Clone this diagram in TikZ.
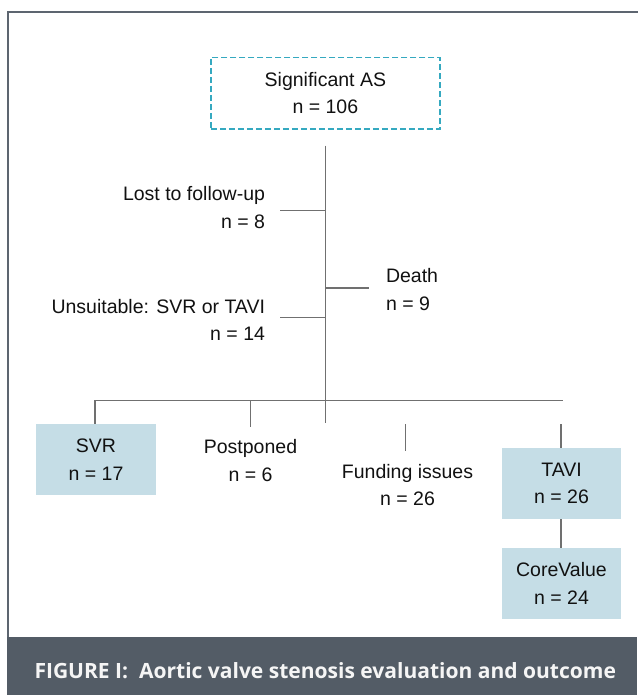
\documentclass[tikz,border=0pt]{standalone}
\usepackage{fontspec}
\setmainfont{Liberation Sans}
\newfontfamily\capfont[Ligatures=NoCommon]{Open Sans}
\definecolor{framegray}{HTML}{5D6570}
\definecolor{bargray}{HTML}{535C66}
\definecolor{linegray}{HTML}{707070}
\definecolor{boxblue}{HTML}{C5DDE6}
\definecolor{dashcyan}{HTML}{35A9C0}
\definecolor{txt}{HTML}{111111}
\begin{document}
\begin{tikzpicture}[x=1pt,y=-1pt,
  every node/.style={inner sep=0pt, outer sep=0pt, text=txt,
    font=\fontsize{19.5}{27.5}\selectfont},
  lbl/.style={align=center},
  lblr/.style={align=right, anchor=east},
  lbll/.style={align=left, anchor=west},
  bluebox/.style={fill=boxblue, minimum width=119pt, minimum height=71pt, align=center},
  dashbox/.style={draw=dashcyan, line width=1.4pt, dash pattern=on 6pt off 3pt,
    minimum width=229pt, minimum height=71.5pt, align=center},
  conn/.style={draw=linegray, line width=1.5pt}
]
\useasboundingbox (0,0) rectangle (637,695);
% frame
\draw[framegray, line width=2.2pt] (8,637) -- (8,12) -- (640,12);
% caption bar
\fill[bargray] (7,636.7) rectangle (637,695);
\node[font=\capfont\bfseries\fontsize{21}{24}\selectfont, text=white!96!black, anchor=west] (cap) at (34.5,671)
  {\resizebox{581.5pt}{!}{FIGURE I:\ \ Aortic valve stenosis evaluation and outcome}};

% nodes
\node[dashbox] (top) at (325.4,93.2) {Significant AS\\n = 106};
\node[lblr] (lost) at (265,207.5) {Lost to follow-up\\n = 8};
\node[lblr] (uns) at (265,320) {Unsuitable: SVR or TAVI\\n = 14};
\node[lbll] (death) at (386,289.5) {Death\\n = 9};
\node[bluebox, minimum width=120pt] (svr) at (96,459.5) {SVR\\n = 17};
\node[lbl] (post) at (250.5,460.5) {Postponed\\n = 6};
\node[lbl] (fund) at (407.5,485) {Funding issues\\n = 26};
\node[bluebox] (tavi) at (561.5,483.5) {TAVI\\n = 26};
\node[bluebox] (core) at (561.5,583.5) {CoreValue\\n = 24};

% coordinates
\coordinate (vtop) at (325.5,145.7);
\coordinate (vbot) at (325.5,423);
\coordinate (t1) at (325.5,210.7);
\coordinate (t1e) at (280,210.7);
\coordinate (t2) at (325.5,317.3);
\coordinate (t2e) at (280,317.3);
\coordinate (td) at (325.5,288);
\coordinate (tde) at (369,288);
\coordinate (bl) at (95,400.5);
\coordinate (br) at (562.7,400.5);
\coordinate (pt) at (250.7,400.5);
\coordinate (pb) at (250.7,427);
\coordinate (ft) at (405.7,424);
\coordinate (fb) at (405.7,451);
\coordinate (tt) at (561,424);

% connectors
\draw[conn] (vtop) -- (vbot);
\draw[conn] (t1) -- (t1e);
\draw[conn] (t2) -- (t2e);
\draw[conn] (td) -- (tde);
\draw[conn] (br) -- (bl) -- (bl |- svr.north);
\draw[conn] (pt) -- (pb);
\draw[conn] (ft) -- (fb);
\draw[conn] (tt) -- (tt |- tavi.north);
\draw[conn] (tt |- tavi.south) -- (tt |- core.north);
\end{tikzpicture}
\end{document}
